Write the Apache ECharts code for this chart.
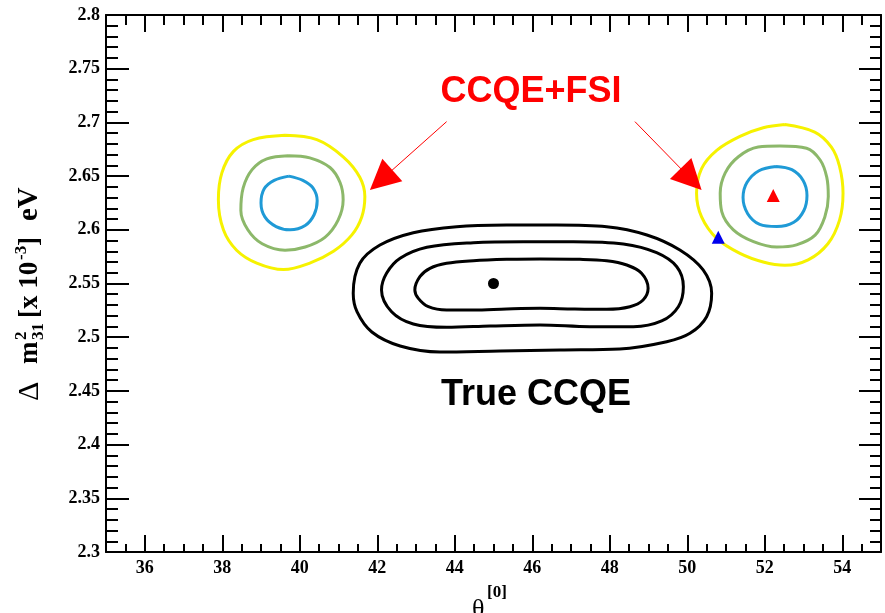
<!DOCTYPE html>
<html>
<head>
<meta charset="utf-8">
<script src="https://cdn.jsdelivr.net/npm/echarts@6/dist/echarts.min.js"></script>
<style>
  html, body { margin: 0; padding: 0; background: #ffffff; }
  #chart { width: 885px; height: 613px; }
</style>
</head>
<body>
<div id="chart"></div>
<script>
// Axis ranges and tick labels
const xRange = [35, 55];
const yRange = [2.3, 2.8];
const xMajorTicks = [36, 38, 40, 42, 44, 46, 48, 50, 52, 54];
const yTickStep = 0.05;

// Confidence contours, [theta23, dm2_31] points around each closed curve
const leftBlue = [[39.72,2.650],[40.08,2.646],[40.34,2.639],[40.45,2.627],[40.37,2.614],[40.14,2.604],[39.75,2.600],[39.39,2.603],[39.10,2.612],[39.00,2.625],[39.08,2.638],[39.34,2.646]];
const leftGreen = [[39.70,2.669],[40.26,2.667],[40.78,2.658],[41.04,2.644],[41.12,2.628],[40.99,2.609],[40.65,2.593],[40.14,2.584],[39.62,2.581],[39.03,2.587],[38.66,2.600],[38.48,2.618],[38.54,2.639],[38.77,2.656],[39.15,2.666]];
const leftYellow = [[39.62,2.688],[40.44,2.684],[41.12,2.668],[41.55,2.649],[41.68,2.631],[41.60,2.612],[41.34,2.595],[40.87,2.580],[40.26,2.569],[39.58,2.563],[38.89,2.569],[38.37,2.581],[38.03,2.600],[37.90,2.628],[37.99,2.653],[38.29,2.673],[38.80,2.684]];
const rightBlue = [[52.29,2.659],[52.70,2.656],[52.99,2.646],[53.09,2.632],[53.01,2.618],[52.75,2.607],[52.31,2.603],[51.87,2.605],[51.56,2.615],[51.44,2.630],[51.54,2.644],[51.85,2.655]];
const rightGreen = [[52.39,2.678],[53.08,2.676],[53.43,2.665],[53.60,2.649],[53.64,2.631],[53.55,2.612],[53.30,2.595],[52.82,2.586],[52.31,2.584],[51.71,2.589],[51.19,2.600],[50.89,2.617],[50.85,2.634],[50.98,2.653],[51.32,2.668],[51.83,2.677]];
const rightYellow = [[52.52,2.698],[53.29,2.691],[53.72,2.677],[53.93,2.659],[54.02,2.634],[53.93,2.609],[53.63,2.587],[53.12,2.572],[52.52,2.567],[51.96,2.570],[51.36,2.578],[50.76,2.592],[50.37,2.612],[50.24,2.634],[50.37,2.657],[50.76,2.674],[51.36,2.687],[51.96,2.695]];
const trueInner = [[45.34,2.5725],[46.20,2.5728],[47.23,2.5725],[47.92,2.5712],[48.44,2.5672],[48.82,2.5595],[48.99,2.5455],[48.86,2.5346],[48.52,2.5284],[47.92,2.5260],[47.06,2.5263],[46.20,2.5269],[45.34,2.5263],[44.48,2.5253],[43.79,2.5253],[43.32,2.5284],[43.06,2.5362],[42.97,2.5440],[43.10,2.5563],[43.36,2.5641],[43.79,2.5688],[44.48,2.5712]];
const trueMiddle = [[45.77,2.5889],[47.06,2.5889],[48.35,2.5868],[49.21,2.5787],[49.73,2.5656],[49.90,2.5470],[49.77,2.5284],[49.34,2.5151],[48.61,2.5098],[47.49,2.5098],[46.20,2.5114],[44.91,2.5104],[43.79,2.5092],[42.93,2.5123],[42.37,2.5237],[42.11,2.5440],[42.24,2.5595],[42.59,2.5735],[43.28,2.5837],[44.48,2.5880]];
const trueOuter = [[45.34,2.6045],[46.63,2.6045],[47.92,2.6029],[48.96,2.5952],[49.81,2.5812],[50.41,2.5626],[50.63,2.5409],[50.50,2.5191],[50.07,2.5036],[49.47,2.4958],[48.26,2.4890],[46.72,2.4881],[45.17,2.4872],[43.62,2.4862],[42.59,2.4918],[41.86,2.5048],[41.48,2.5235],[41.38,2.5409],[41.55,2.5688],[42.07,2.5858],[42.93,2.5973],[44.05,2.6029]];

// Best-fit points
const trueBest = [[45.0, 2.55]];
const fsiBest = [[52.22, 2.632]];
const fsiOther = [[50.8, 2.593]];

// Annotation arrows (start, end) from the "CCQE+FSI" label
const arrowStarts = [[43.79, 2.7007], [48.65, 2.7007]];
const arrowEnds = [[42.10, 2.6464], [50.10, 2.6471]];

const YELLOW = '#f6f200';
const GREEN = '#8cb86a';
const BLUE = '#1f9ad6';
const serif = '"Liberation Serif", "DejaVu Serif", serif';
const sans = '"Liberation Sans", Arial, sans-serif';

function contour(points, color) {
  return {
    type: 'line',
    data: points.concat([points[0]]),
    smooth: 0.35,
    showSymbol: false,
    symbol: 'none',
    silent: true,
    animation: false,
    lineStyle: { color: color, width: 3 },
    z: 3
  };
}

function markerSeries(points, symbol, size, color) {
  return {
    type: 'scatter',
    data: points,
    symbol: symbol,
    symbolSize: size,
    itemStyle: { color: color, opacity: 1 },
    silent: true,
    animation: false,
    z: 5
  };
}

const frameLine = { show: true, lineStyle: { color: '#000', width: 2 } };
const tickStyle = { color: '#000', width: 2 };

function xMajorAxis(position) {
  return {
    type: 'value', position: position, min: xRange[0], max: xRange[1],
    axisLine: frameLine,
    axisTick: { show: true, inside: true, length: 17, customValues: xMajorTicks, lineStyle: tickStyle },
    axisLabel: position === 'bottom'
      ? { show: true, customValues: xMajorTicks, margin: 7, color: '#000',
          fontFamily: serif, fontWeight: 'bold', fontSize: 18 }
      : { show: false },
    splitLine: { show: false }
  };
}
function xMinorAxis(position, len) {
  return {
    type: 'value', position: position, min: xRange[0], max: xRange[1], interval: 0.5,
    axisLine: { show: false },
    axisTick: { show: true, inside: true, length: len, lineStyle: tickStyle },
    axisLabel: { show: false },
    splitLine: { show: false }
  };
}
function yAxis(position, majorLen, minorLen, showLabels) {
  return {
    type: 'value', position: position, min: yRange[0], max: yRange[1], interval: yTickStep,
    axisLine: frameLine,
    axisTick: { show: true, inside: true, length: majorLen, lineStyle: tickStyle },
    minorTick: { show: true, splitNumber: 5, length: minorLen, lineStyle: tickStyle },
    axisLabel: showLabels
      ? { show: true, margin: 6, color: '#000', fontFamily: serif, fontWeight: 'bold', fontSize: 18,
          formatter: v => String(+v.toFixed(2)) }
      : { show: false },
    splitLine: { show: false },
    minorSplitLine: { show: false }
  };
}

const arrowData = arrowStarts.map((s, i) => [
  { coord: s, symbol: 'none' },
  { coord: arrowEnds[i], symbol: 'triangle', symbolSize: 30 }
]);

const chart = echarts.init(document.getElementById('chart'), null, { renderer: 'canvas' });

chart.setOption({
  animation: false,
  backgroundColor: '#ffffff',
  grid: { left: 106, right: 4, top: 15, bottom: 61, containLabel: false },
  xAxis: [
    xMajorAxis('bottom'), xMinorAxis('bottom', 8),
    xMajorAxis('top'), xMinorAxis('top', 10)
  ],
  yAxis: [
    yAxis('left', 23, 12, true),
    yAxis('right', 22, 11, false)
  ],
  series: [
    contour(leftYellow, YELLOW), contour(leftGreen, GREEN), contour(leftBlue, BLUE),
    contour(rightYellow, YELLOW), contour(rightGreen, GREEN), contour(rightBlue, BLUE),
    contour(trueOuter, '#000'), contour(trueMiddle, '#000'), contour(trueInner, '#000'),
    markerSeries(trueBest, 'circle', 11, '#000'),
    markerSeries(fsiBest, 'triangle', 13, '#ff0000'),
    Object.assign(markerSeries(fsiOther, 'triangle', 13, '#0000ee'), {
      markLine: {
        silent: true,
        animation: false,
        label: { show: false },
        lineStyle: { color: '#ff0000', width: 1, type: 'solid', opacity: 1 },
        itemStyle: { color: '#ff0000', opacity: 1 },
        emphasis: { disabled: true },
        data: arrowData
      }
    })
  ],
  graphic: [
    { type: 'text', x: 531, y: 92, z: 10,
      style: { text: 'CCQE+FSI', fill: '#ff0000', font: 'bold 36px ' + sans, align: 'center', verticalAlign: 'middle' } },
    { type: 'text', x: 536, y: 395, z: 10,
      style: { text: 'True CCQE', fill: '#000', font: 'bold 36px ' + sans, align: 'center', verticalAlign: 'middle' } },
    // y-axis title, read bottom to top
    { type: 'group', x: 30, y: 401, rotation: Math.PI / 2, z: 10,
      children: [
        { type: 'text', x: 0, y: 0, style: { text: 'Δ', fill: '#000', font: '30px ' + serif, align: 'left', verticalAlign: 'middle' } },
        { type: 'text', x: 37, y: 0, style: { text: 'm', fill: '#000', font: 'bold 27px ' + serif, align: 'left', verticalAlign: 'middle' } },
        { type: 'text', x: 61, y: -8, style: { text: '2', fill: '#000', font: 'bold 17px ' + serif, align: 'left', verticalAlign: 'middle' } },
        { type: 'text', x: 61, y: 9, style: { text: '31', fill: '#000', font: 'bold 17px ' + serif, align: 'left', verticalAlign: 'middle' } },
        { type: 'text', x: 83, y: 0, style: { text: '[x 10', fill: '#000', font: 'bold 27px ' + serif, align: 'left', verticalAlign: 'middle' } },
        { type: 'text', x: 141, y: -8, style: { text: '-3', fill: '#000', font: 'bold 17px ' + serif, align: 'left', verticalAlign: 'middle' } },
        { type: 'text', x: 155, y: 0, style: { text: ']', fill: '#000', font: 'bold 27px ' + serif, align: 'left', verticalAlign: 'middle' } },
        { type: 'text', x: 180, y: 0, style: { text: 'eV', fill: '#000', font: 'bold 29px ' + serif, align: 'left', verticalAlign: 'middle' } }
      ] },
    // x-axis title
    { type: 'text', x: 472, y: 597, z: 10,
      style: { text: 'θ', fill: '#000', font: '26px ' + serif, align: 'left', verticalAlign: 'top' } },
    { type: 'text', x: 487, y: 584, z: 10,
      style: { text: '[0]', fill: '#000', font: 'bold 17px ' + serif, align: 'left', verticalAlign: 'top' } },
    { type: 'text', x: 487, y: 612, z: 10,
      style: { text: '23', fill: '#000', font: 'bold 17px ' + serif, align: 'left', verticalAlign: 'top' } }
  ]
});
</script>
</body>
</html>
